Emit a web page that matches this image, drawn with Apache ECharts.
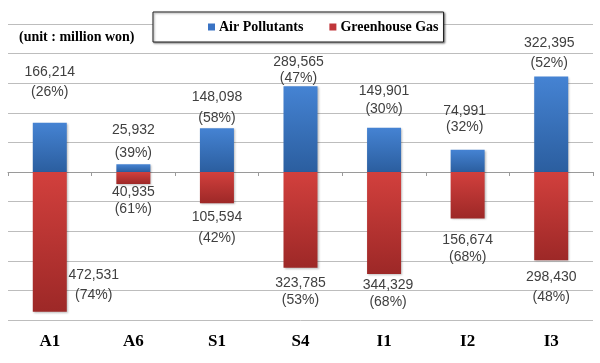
<!DOCTYPE html>
<html>
<head>
<meta charset="utf-8">
<script src="https://cdn.jsdelivr.net/npm/echarts@6/dist/echarts.min.js"></script>
<style>
html,body{margin:0;padding:0;background:#fff;}
#chart{width:600px;height:363px;}
</style>
</head>
<body>
<div id="chart"></div>
<script>
// ---- data ----
const categories = ['A1', 'A6', 'S1', 'S4', 'I1', 'I2', 'I3'];
const airValues = [166214, 25932, 148098, 289565, 149901, 74991, 322395];
const airShares = [26, 39, 58, 47, 30, 32, 52];
const ghgValues = [472531, 40935, 105594, 323785, 344329, 156674, 298430];
const ghgShares = [74, 61, 42, 53, 68, 68, 48];
const seriesNames = ['Air Pollutants', 'Greenhouse Gas'];
const unitText = '(unit : million won)';
const axisMin = -500000, axisMax = 500000, axisStep = 100000;

// ---- label layout (dx, distance from bar end, line height) ----
const airLabelLayout = [[0, 20.8, 20], [0, -0.2, 23], [0, -0.3, 21], [-2, 0.3, 16], [0, 9.6, 18], [-3, 14.8, 16], [-2, 3.6, 20]];
const ghgLabelLayout = [[44, -46.9, 20], [0, -0.6, 17], [0, 3.2, 21], [0, 6.7, 17], [4, 2.6, 17], [0, 13.1, 17], [0, 6.7, 20]];

const fmt = v => Math.abs(v).toLocaleString('en-US');

const blueGrad = new echarts.graphic.LinearGradient(0, 0, 0, 1, [
  {offset: 0, color: '#4583d3'}, {offset: 1, color: '#2b5e9f'}
]);
const redGrad = new echarts.graphic.LinearGradient(0, 0, 0, 1, [
  {offset: 0, color: '#d2403d'}, {offset: 1, color: '#9d2827'}
]);

const labelBase = {
  show: true,
  distance: 0,
  color: '#404040',
  fontFamily: 'Liberation Sans, Arial, sans-serif',
  fontSize: 14
};

const airData = airValues.map((v, i) => ({
  value: v,
  label: {
    offset: [airLabelLayout[i][0], -airLabelLayout[i][1]],
    lineHeight: airLabelLayout[i][2],
    formatter: fmt(v) + '\n(' + airShares[i] + '%)'
  }
}));
const ghgData = ghgValues.map((v, i) => ({
  value: -v,
  label: {
    offset: [ghgLabelLayout[i][0], ghgLabelLayout[i][1]],
    lineHeight: ghgLabelLayout[i][2],
    formatter: fmt(v) + '\n(' + ghgShares[i] + '%)'
  }
}));

const chart = echarts.init(document.getElementById('chart'), null, {renderer: 'canvas'});
chart.setOption({
  animation: false,
  backgroundColor: '#fff',
  title: {
    text: unitText,
    left: 19, top: 30, padding: 0,
    textStyle: {fontFamily: 'Liberation Serif, Times New Roman, serif', fontWeight: 'bold', fontSize: 14, color: '#000'}
  },
  legend: {
    data: [
      {name: seriesNames[0], itemStyle: {color: '#3a73c4'}},
      {name: seriesNames[1], itemStyle: {color: '#c0363a'}}
    ],
    icon: 'rect',
    itemWidth: 7, itemHeight: 7, itemGap: 26,
    left: 153, top: 12,
    padding: [8, 5, 8, 55],
    backgroundColor: '#fff',
    borderColor: '#222', borderWidth: 1,
    shadowColor: 'rgba(0,0,0,0.45)', shadowBlur: 2, shadowOffsetX: 1, shadowOffsetY: 1,
    textStyle: {fontFamily: 'Liberation Serif, Times New Roman, serif', fontWeight: 'bold', fontSize: 14, color: '#000', padding: [0, 0, 0, -1]},
    selectedMode: false
  },
  grid: {left: 8, right: 7, top: 24, bottom: 43, containLabel: false, outerBoundsMode: 'none'},
  xAxis: [
    {
      type: 'category', data: categories, position: 'bottom',
      axisLine: {onZero: true, lineStyle: {color: '#9a9a9a', width: 1}},
      axisTick: {show: true, length: 4, lineStyle: {color: '#9a9a9a'}},
      axisLabel: {show: false}
    },
    {
      type: 'category', data: categories, position: 'bottom',
      axisLine: {show: false, onZero: false},
      axisTick: {show: false},
      axisLabel: {show: true, margin: 13, fontFamily: 'Liberation Serif, Times New Roman, serif', fontWeight: 'bold', fontSize: 17, color: '#000'}
    }
  ],
  yAxis: {
    type: 'value', min: axisMin, max: axisMax, interval: axisStep,
    axisLine: {show: false}, axisTick: {show: false}, axisLabel: {show: false},
    splitLine: {show: true, lineStyle: {color: '#bdbdbd', width: 1}}
  },
  series: [
    {
      name: seriesNames[0], type: 'bar', stack: 'total', xAxisIndex: 0,
      barWidth: 34,
      itemStyle: {color: blueGrad, shadowColor: 'rgba(0,0,0,0.25)', shadowBlur: 2, shadowOffsetX: 1, shadowOffsetY: 1},
      label: Object.assign({position: 'top'}, labelBase),
      data: airData
    },
    {
      name: seriesNames[1], type: 'bar', stack: 'total', xAxisIndex: 0,
      barWidth: 34,
      itemStyle: {color: redGrad, shadowColor: 'rgba(0,0,0,0.25)', shadowBlur: 2, shadowOffsetX: 1, shadowOffsetY: 1},
      label: Object.assign({position: 'bottom'}, labelBase),
      data: ghgData
    }
  ]
});
</script>
</body>
</html>
